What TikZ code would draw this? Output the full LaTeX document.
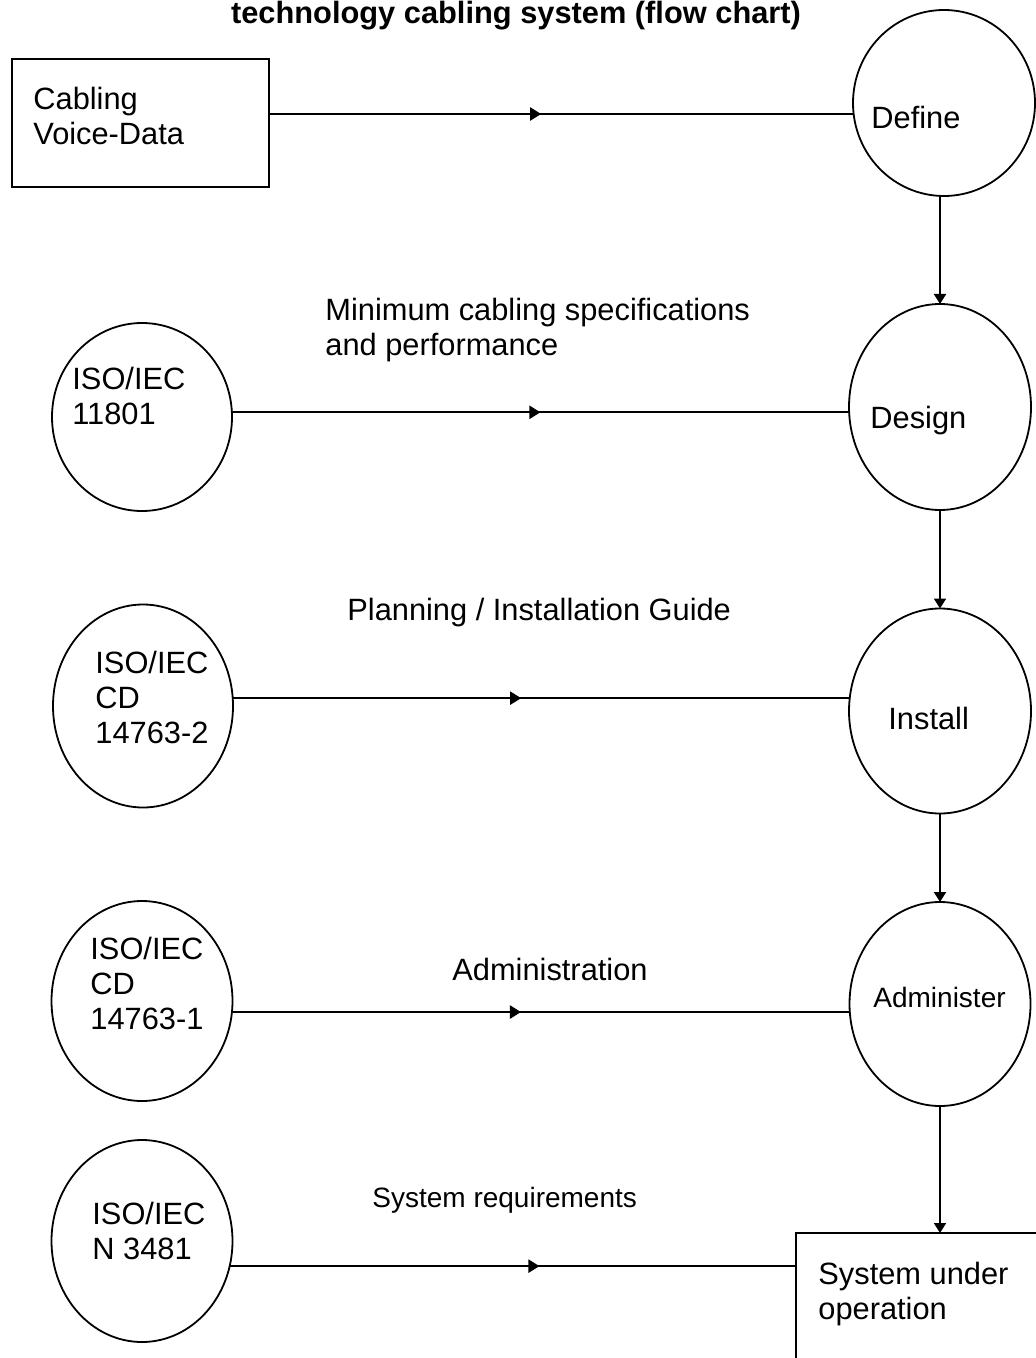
\documentclass[tikz,border=0pt]{standalone}
\usepackage{fontspec}
\setmainfont{Liberation Sans}
\usetikzlibrary{shapes.geometric,arrows.meta,decorations.markings}
\begin{document}
\begin{tikzpicture}[x=0.5pt,y=-0.5pt,
  proc/.style={ellipse,draw,line width=0.9pt,inner sep=0pt,outer sep=0pt},
  boxnode/.style={rectangle,draw,line width=0.9pt,inner sep=0pt,outer sep=0pt},
  txt/.style={anchor=north west,inner sep=0pt,align=left,font=\fontsize{15.4}{17.5}\selectfont},
  smalltxt/.style={anchor=north west,inner sep=0pt,align=left,font=\fontsize{14}{16}\selectfont},
  endarrow/.style={line width=1pt,-{Triangle[length=5pt,width=6pt]}},
  midarrow/.style={line width=1.1pt,postaction={decorate},
    decoration={markings,mark=at position #1 with {\arrow{Triangle[length=5.5pt,width=6.5pt]}}}},
]
\useasboundingbox (0,0) rectangle (1036,1358);
\clip (0,0) rectangle (1036,1358);

% title
\node[anchor=base,inner sep=0pt,font=\fontsize{15.4}{17.5}\selectfont\bfseries] (title) at (516,24) {technology cabling system (flow chart)};

% right column
\node[boxnode,minimum width=128.5pt,minimum height=64pt] (box) at (140.5,123) {};
\node[proc,minimum width=91pt,minimum height=93pt] (define) at (944,103) {};
\node[proc,minimum width=91pt,minimum height=103pt] (design) at (940,407) {};
\node[proc,minimum width=91pt,minimum height=102.5pt] (install) at (940,711) {};
\node[proc,minimum width=90.5pt,minimum height=102pt] (admin) at (940,1004) {};
\node[boxnode,minimum width=132pt,minimum height=73.5pt] (sysbox) at (928,1306.5) {};

% left column
\node[proc,minimum width=90pt,minimum height=94pt] (iso1) at (142,417) {};
\node[proc,minimum width=90pt,minimum height=101.5pt] (iso2) at (143,706) {};
\node[proc,minimum width=90.5pt,minimum height=100pt] (iso3) at (142,1001) {};
\node[proc,minimum width=90.5pt,minimum height=101pt] (iso4) at (142,1241) {};

% texts in shapes
\node[txt] (tbox) at (33,87) {Cabling\\Voice-Data};
\node[txt] (tdefine) at (871,106) {Define};
\node[txt] (tdesign) at (870,406) {Design};
\node[txt] (tinstall) at (888,707) {Install};
\node[smalltxt] (tadmin) at (873,987) {Administer};
\node[txt] (tsys) at (818,1262) {System under\\operation};
\node[txt] (tiso1) at (72,367) {ISO/IEC\\11801};
\node[txt] (tiso2) at (95,651) {ISO/IEC\\CD\\14763-2};
\node[txt] (tiso3) at (90,937) {ISO/IEC\\CD\\14763-1};
\node[txt] (tiso4) at (92,1202) {ISO/IEC\\N 3481};

% connector labels
\node[txt] (l1) at (325,298) {Minimum cabling specifications\\and performance};
\node[txt] (l2) at (347,598) {Planning / Installation Guide};
\node[txt] (l3) at (452,958) {Administration};
\node[smalltxt] (l4) at (372,1187) {System requirements};

% horizontal connectors
\draw[midarrow=0.466] (box.4.5) -- (box.4.5 -| define.west);
\draw[midarrow=0.50] (iso1.3.2) -- (iso1.3.2 -| design.west);
\draw[midarrow=0.468] (iso2.5.1) -- (iso2.5.1 -| install.west);
\draw[midarrow=0.468] (iso3.-7) -- (iso3.-7 -| admin.west);
\draw[midarrow=0.547] (iso4.-16.8) -- (iso4.-16.8 -| sysbox.west);

% vertical connectors
\draw[endarrow] (design.north |- define.south) -- (design.north);
\draw[endarrow] (design.south) -- (install.north);
\draw[endarrow] (install.south) -- (admin.north);
\draw[endarrow] (admin.south) -- (admin.south |- sysbox.north);
\end{tikzpicture}
\end{document}
